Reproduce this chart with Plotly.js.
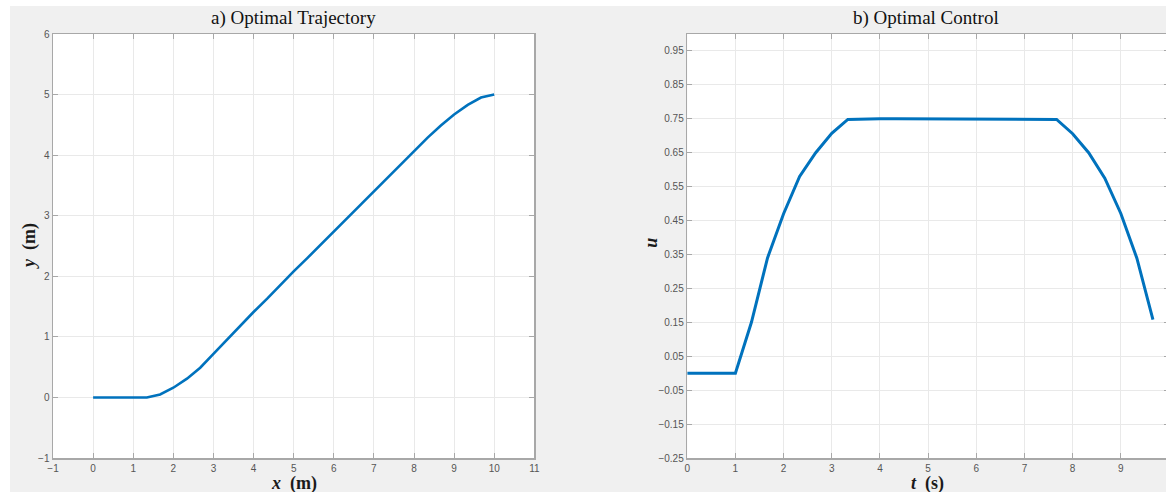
<!DOCTYPE html>
<html>
<head>
<meta charset="utf-8">
<script src="https://cdn.plot.ly/plotly-3.0.1.min.js"></script>
<style>
html, body { margin: 0; padding: 0; background: #ffffff; overflow: hidden; width: 1166px; height: 492px; }
#chart { position: absolute; left: 10px; top: 6px; width: 1162px; height: 486px; }
</style>
</head>
<body>
<div id="chart"></div>
<script>
// a) Optimal trajectory
const trajX = [0, 0.33, 0.67, 1.0, 1.34, 1.67, 2.0, 2.34, 2.67, 3.0, 3.34, 3.67, 4.0, 4.34, 4.67, 5.0, 5.34, 5.67, 6.0, 6.34, 6.67, 7.0, 7.34, 7.67, 8.0, 8.34, 8.67, 9.0, 9.34, 9.67, 10.0];
const trajY = [0, 0, 0, 0, 0, 0.05, 0.16, 0.31, 0.49, 0.72, 0.96, 1.19, 1.41, 1.63, 1.86, 2.08, 2.30, 2.52, 2.74, 2.96, 3.18, 3.40, 3.62, 3.85, 4.07, 4.29, 4.49, 4.67, 4.83, 4.95, 5.0];

// b) Optimal control
const ctrlT = [0, 0.333, 0.667, 1, 1.333, 1.667, 2, 2.333, 2.667, 3, 3.333, 3.667, 4, 4.333, 4.667, 5, 5.333, 5.667, 6, 6.333, 6.667, 7, 7.333, 7.667, 8, 8.333, 8.667, 9, 9.333, 9.667];
const ctrlU = [0, 0, 0, 0, 0.15, 0.34, 0.47, 0.58, 0.65, 0.707, 0.748, 0.75, 0.75, 0.75, 0.75, 0.75, 0.75, 0.75, 0.75, 0.75, 0.75, 0.75, 0.75, 0.748, 0.706, 0.65, 0.575, 0.471, 0.339, 0.158];

// labels
const titleA = 'a) Optimal Trajectory';
const titleB = 'b) Optimal Control';
const xLabelA = '<b><i>x</i>&nbsp;&nbsp;(m)</b>';
const yLabelA = '<b><i>y</i>&nbsp;&nbsp;(m)</b>';
const xLabelB = '<b><i>t</i>&nbsp;&nbsp;(s)</b>';
const yLabelB = '<b><i>u</i></b>';

const lineBlue = '#0072bd';
const axisGray = '#a8a8a8';
const gridGray = '#e9e9e9';
const tickFont = { family: 'Liberation Sans, Arial, sans-serif', size: 10, color: '#555555' };
const serif = 'Liberation Serif, Times New Roman, serif';

function axisStyle(extra) {
  return Object.assign({
    showline: true, linecolor: axisGray, linewidth: 1.5, mirror: 'ticks',
    ticks: 'inside', ticklen: 5, tickwidth: 1, tickcolor: axisGray,
    showgrid: true, gridcolor: gridGray, gridwidth: 1,
    zeroline: false, tickfont: tickFont, fixedrange: true
  }, extra);
}

const traces = [
  { x: trajX, y: trajY, type: 'scatter', mode: 'lines', xaxis: 'x', yaxis: 'y',
    line: { color: lineBlue, width: 2.6 }, showlegend: false, hoverinfo: 'skip' },
  { x: ctrlT, y: ctrlU, type: 'scatter', mode: 'lines', xaxis: 'x2', yaxis: 'y2',
    line: { color: lineBlue, width: 3 }, showlegend: false, hoverinfo: 'skip' }
];

const layout = {
  width: 1162, height: 486,
  margin: { l: 43, r: 2.5, t: 28, b: 34, pad: 0 },
  paper_bgcolor: '#f0f0f0', plot_bgcolor: '#ffffff',
  showlegend: false,
  xaxis: axisStyle({ domain: [0, 0.4313], range: [-1, 11], tick0: -1, dtick: 1, anchor: 'y' }),
  yaxis: axisStyle({ domain: [0, 1], range: [-1, 6], tick0: -1, dtick: 1, anchor: 'x' }),
  xaxis2: axisStyle({ domain: [0.5683, 1], range: [0, 10], tick0: 0, dtick: 1, anchor: 'y2' }),
  yaxis2: axisStyle({ domain: [0, 1], range: [-0.25, 1.0], tick0: -0.25, dtick: 0.1, tickformat: '.2f', anchor: 'x2' }),
  annotations: [
    { text: titleA, xref: 'paper', yref: 'paper', x: 0.2159, y: 1.0377, xanchor: 'center', yanchor: 'middle', showarrow: false, font: { family: serif, size: 19, color: '#111111' } },
    { text: titleB, xref: 'paper', yref: 'paper', x: 0.7819, y: 1.0377, xanchor: 'center', yanchor: 'middle', showarrow: false, font: { family: serif, size: 19, color: '#111111' } },
    { text: xLabelA, xref: 'paper', yref: 'paper', x: 0.2159, y: -0.059, xanchor: 'center', yanchor: 'middle', showarrow: false, font: { family: serif, size: 18, color: '#1a1a1a' } },
    { text: xLabelB, xref: 'paper', yref: 'paper', x: 0.7837, y: -0.059, xanchor: 'center', yanchor: 'middle', showarrow: false, font: { family: serif, size: 18, color: '#1a1a1a' } },
    { text: yLabelA, xref: 'paper', yref: 'paper', x: -0.0215, y: 0.5, xanchor: 'center', yanchor: 'middle', textangle: -90, showarrow: false, font: { family: serif, size: 18, color: '#1a1a1a' } },
    { text: yLabelB, xref: 'paper', yref: 'paper', x: 0.5356, y: 0.507, xanchor: 'center', yanchor: 'middle', textangle: -90, showarrow: false, font: { family: serif, size: 18, color: '#1a1a1a' } }
  ]
};

Plotly.newPlot('chart', traces, layout, { displayModeBar: false, staticPlot: true });
</script>
</body>
</html>
